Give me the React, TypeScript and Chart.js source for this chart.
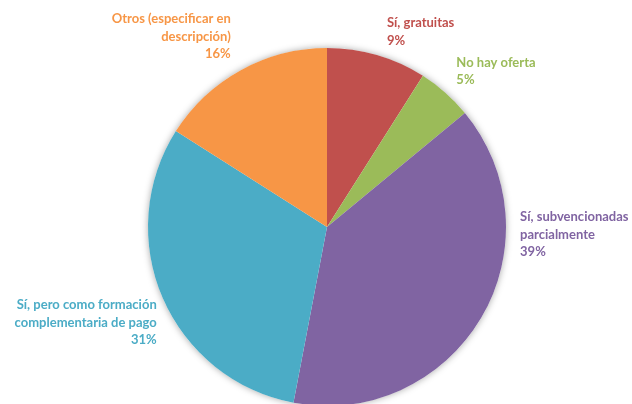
import React, { useEffect, useRef } from "react";
import { Chart, registerables } from "chart.js";

Chart.register(...registerables);

const categories = [
  "Sí, gratuitas",
  "No hay oferta",
  "Sí, subvencionadas parcialmente",
  "Sí, pero como formación complementaria de pago",
  "Otros (especificar en descripción)",
];
const values = [9, 5, 39, 31, 16];
const percentLabels = ["9%", "5%", "39%", "31%", "16%"];
const labelLines = [
  ["Sí, gratuitas"],
  ["No hay oferta"],
  ["Sí, subvencionadas", "parcialmente"],
  ["Sí, pero como formación", "complementaria de pago"],
  ["Otros (especificar en", "descripción)"],
];
const colors = ["#C0504D", "#9BBB59", "#8064A2", "#4BACC6", "#F79646"];

// label placement relative to the arc's mid-point on the rim (style config)
const labelPlacement = [
  { dx: 10, dy: -32, align: "left" },
  { dx: 11, dy: -30, align: "left" },
  { dx: 39, dy: -101, align: "left" },
  { dx: -6, dy: 7, align: "right" },
  { dx: -10, dy: -51, align: "right" },
];

const FONT = "bold 13px Lato, 'Noto Sans', sans-serif";
const LINE_H = 17.5;

const shadowPlugin = {
  id: "pieShadow",
  beforeDatasetsDraw(chart: any) {
    const meta = chart.getDatasetMeta(0);
    const arc = meta.data[0];
    if (!arc) return;
    const { x, y, outerRadius } = arc.getProps(["x", "y", "outerRadius"], true);
    const ctx = chart.ctx;
    ctx.save();
    ctx.beginPath();
    ctx.arc(x, y, outerRadius, 0, Math.PI * 2);
    ctx.fillStyle = "#ffffff";
    ctx.shadowColor = "rgba(0,0,0,0.35)";
    ctx.shadowBlur = 7;
    ctx.fill();
    ctx.restore();
  },
};

const labelPlugin = {
  id: "outsideLabels",
  afterDatasetsDraw(chart: any) {
    const meta = chart.getDatasetMeta(0);
    const ctx = chart.ctx;
    ctx.save();
    ctx.font = FONT;
    ctx.textBaseline = "middle";
    meta.data.forEach((arc: any, i: number) => {
      const { x, y, startAngle, endAngle, outerRadius } = arc.getProps(
        ["x", "y", "startAngle", "endAngle", "outerRadius"],
        true
      );
      const mid = (startAngle + endAngle) / 2;
      const px = x + Math.cos(mid) * outerRadius;
      const py = y + Math.sin(mid) * outerRadius;
      const pl = labelPlacement[i];
      const lines = [...labelLines[i], percentLabels[i]];
      ctx.fillStyle = colors[i];
      ctx.textAlign = pl.align;
      lines.forEach((t, k) => {
        ctx.fillText(t, px + pl.dx, py + pl.dy + k * LINE_H);
      });
    });
    ctx.restore();
  },
};

export default function App() {
  const ref = useRef<HTMLCanvasElement>(null);
  useEffect(() => {
    document.body.style.margin = "0";
    const chart = new Chart(ref.current!, {
      type: "pie",
      data: {
        labels: categories,
        datasets: [
          {
            data: values,
            backgroundColor: colors,
            borderWidth: 0,
          },
        ],
      },
      options: {
        responsive: false,
        animation: false,
        layout: { padding: { left: 148, top: 48, right: 126, bottom: 14 } },
        plugins: {
          legend: { display: false },
          tooltip: { enabled: false },
        },
      },
      plugins: [shadowPlugin, labelPlugin],
    });
    return () => chart.destroy();
  }, []);
  return (
    <div
      style={{
        position: "absolute",
        left: 0,
        top: 0,
        width: 632,
        height: 404,
        overflow: "hidden",
        background: "#fff",
      }}
    >
      <canvas ref={ref} width={632} height={420} />
    </div>
  );
}
